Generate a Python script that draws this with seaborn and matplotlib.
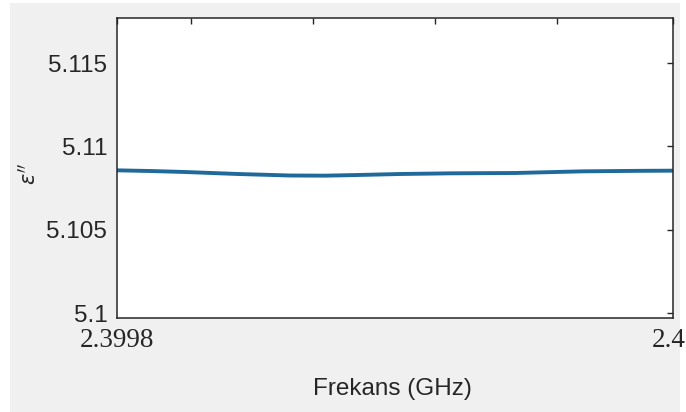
import matplotlib
matplotlib.use("Agg")
import matplotlib.pyplot as plt
import matplotlib.transforms as mtransforms
from matplotlib.patches import Rectangle
import seaborn as sns
import pandas as pd

# Imaginary part of permittivity across a narrow band near 2.4 GHz
freq_ghz = [2.39980, 2.3998119, 2.3998245, 2.3998435, 2.3998622, 2.3998748,
            2.3998867, 2.3999018, 2.3999198, 2.3999432, 2.3999676, 2.3999881,
            2.40000]
eps_imag = [5.10856, 5.10852, 5.10846, 5.10834, 5.10825, 5.10824,
            5.10828, 5.10834, 5.10838, 5.10840, 5.10850, 5.10853,
            5.10854]

x_ticks = [2.3998, 2.3998266, 2.3998705, 2.3999144, 2.3999583, 2.4]
x_tick_labels = ["2.3998", "", "", "", "", "2.4"]
y_ticks = [5.1, 5.105, 5.11, 5.115]
y_tick_labels = ["5.1", "5.105", "5.11", "5.115"]

sns.set_theme(style="white")
plt.rcParams["font.family"] = ["Liberation Sans", "DejaVu Sans"]
plt.rcParams["mathtext.fontset"] = "dejavusans"

df = pd.DataFrame({"freq": freq_ghz, "eps": eps_imag})

fig = plt.figure(figsize=(6.86, 4.12), dpi=100, facecolor="white")
# grey window panel behind the axes
fig.patches.append(Rectangle((10 / 686, 0), 670 / 686, 409 / 412,
                             transform=fig.transFigure, facecolor="#f0f0f0",
                             edgecolor="none", zorder=-10))

ax = fig.add_axes([117 / 686, 1 - 318 / 412, 556 / 686, 300 / 412])
ax.set_zorder(1)
ax.set_facecolor("white")

sns.lineplot(data=df, x="freq", y="eps", ax=ax, color="#1f6a9a",
             linewidth=2.8, legend=False)

ax.set_xlim(2.3998, 2.4)
ax.set_ylim(5.0997, 5.1177)

ax.set_xticks(x_ticks)
ax.set_xticklabels(x_tick_labels, fontfamily="Liberation Serif", fontsize=19.5)
ax.set_yticks(y_ticks)
ax.set_yticklabels(y_tick_labels, fontsize=17.5)

ax.tick_params(axis="both", direction="in", length=4, width=1.0,
               color="#262626", top=True, right=True, labelcolor="#262626")
ax.tick_params(axis="x", pad=7)
ax.tick_params(axis="y", pad=7)

# nudge the last frequency label so it stays inside the canvas
last = ax.get_xticklabels()[-1]
last.set_transform(last.get_transform() +
                   mtransforms.ScaledTranslation(-4 / 100, 0, fig.dpi_scale_trans))

for sp in ax.spines.values():
    sp.set_visible(True)
    sp.set_color("#262626")
    sp.set_linewidth(1.1)

ax.set_xlabel("Frekans (GHz)", fontsize=17.5, color="#262626")
ax.xaxis.set_label_coords(0.496, -0.2)
ax.xaxis.label.set_va("top")

ax.set_ylabel(r"$\epsilon''$", fontsize=15, color="#262626")
ax.yaxis.set_label_coords(-0.16, 0.48)
ax.yaxis.label.set_va("center")

fig.savefig("out.png", dpi=100, facecolor=fig.get_facecolor())
